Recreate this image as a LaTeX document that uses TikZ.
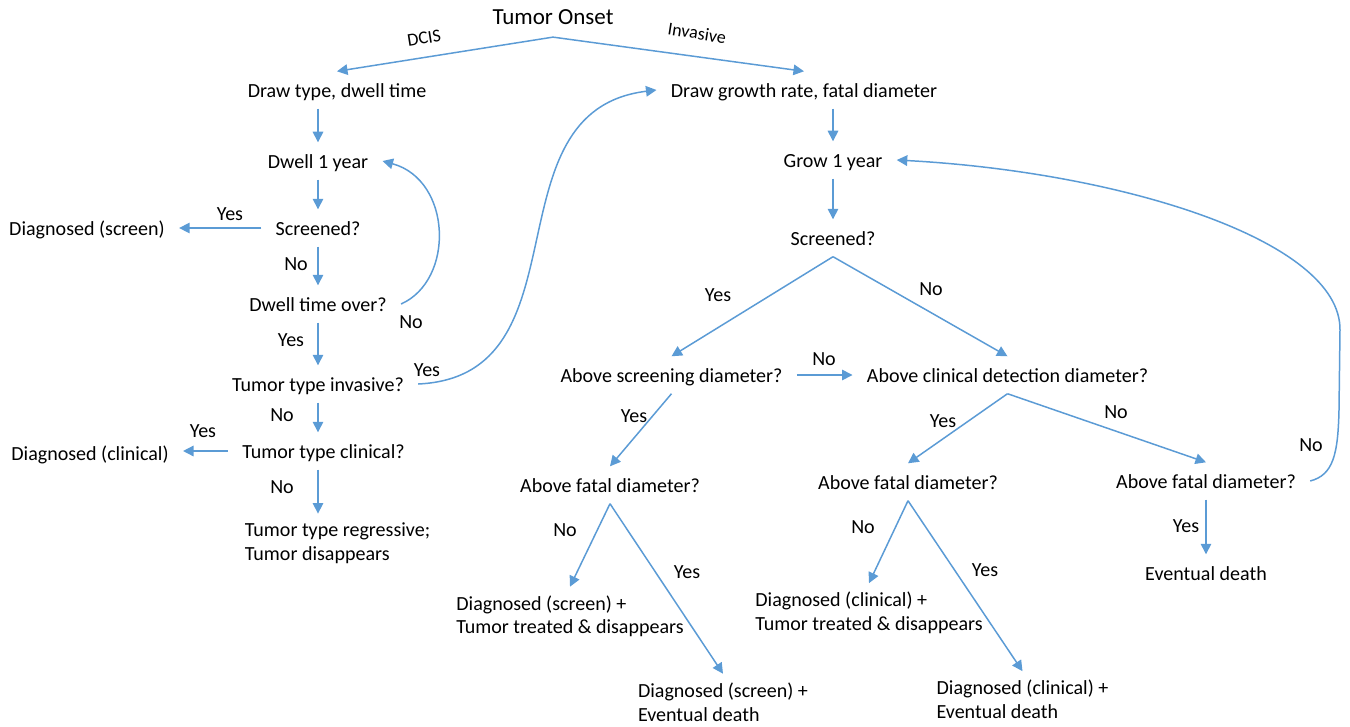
\documentclass[tikz,border=0pt]{standalone}
\usepackage{fontspec}
\setmainfont{Carlito}
\usepackage{tikz}
\usetikzlibrary{arrows.meta}
\definecolor{flowblue}{HTML}{5B9BD5}

\begin{document}
\begin{tikzpicture}[x=0.02cm, y=-0.02cm, font=\fontsize{11.4}{13.4}\selectfont,
	box/.style={inner xsep=8pt, inner ysep=5pt, text height=9.9pt, text depth=1pt},
	twoline/.style={inner xsep=8pt, inner ysep=5pt, align=left},
	lbl/.style={inner sep=1pt},
	branch/.style={inner sep=1pt, font=\fontsize{10.3}{12}\selectfont},
	arr/.style={draw=flowblue, line width=0.85pt, -{Triangle[length=6pt, width=6pt]}}]

\useasboundingbox (0,0) rectangle (1350,727);

% top
\node[box, font=\fontsize{13.1}{15}\selectfont, text height=10.6pt, text depth=1.9pt] (onset) at (553,17) {Tumor Onset};
\node[branch, rotate=9]  (dcis) at (424,38) {DCIS};
\node[branch, rotate=-9] (invs) at (697,33) {Invasive};

% DCIS side
\node[box] (dtype) at (337,90)  {Draw type, dwell time};
\node[box] (dwell) at (318,161) {Dwell 1 year};
\node[box] (scrL)  at (318,228) {Screened?};
\node[box] (diagS) at (87,228)  {Diagnosed (screen)};
\node[box] (over)  at (318,304) {Dwell time over?};
\node[box] (inv)   at (318,384) {Tumor type invasive?};
\node[box] (clin)  at (323.5,451) {Tumor type clinical?};
\node[box] (diagC) at (90,453)  {Diagnosed (clinical)};
\node[twoline] (regr) at (337.5,543) {Tumor type regressive;\\Tumor disappears};

% invasive side
\node[box] (growth) at (804,90)  {Draw growth rate, fatal diameter};
\node[box] (grow)   at (833,160) {Grow 1 year};
\node[box] (scrR)   at (833,238) {Screened?};
\node[box] (absc)   at (671.5,375)  {Above screening diameter?};
\node[box] (abcl)   at (1007.5,375) {Above clinical detection diameter?};
\node[box] (fatal1) at (610,485)  {Above fatal diameter?};
\node[box] (fatal2) at (908,482)  {Above fatal diameter?};
\node[box] (fatal3) at (1206,481) {Above fatal diameter?};
\node[box] (death)  at (1206,573) {Eventual death};
\node[twoline] (dst) at (570,616.5)  {Diagnosed (screen) +\\Tumor treated \& disappears};
\node[twoline] (dsd) at (723,702)    {Diagnosed (screen) +\\Eventual death};
\node[twoline] (dct) at (869,613)    {Diagnosed (clinical) +\\Tumor treated \& disappears};
\node[twoline] (dcd) at (1022.5,699.5) {Diagnosed (clinical) +\\Eventual death};

% yes / no
\foreach \x/\y/\t [count=\i] in {230/214/Yes, 296/264/No, 411/322/No, 291/340/Yes,
	427/370/Yes, 282/415/No, 203/431/Yes, 282/487/No, 718/295/Yes, 931/289/No,
	824/359/No, 634/416/Yes, 943/421/Yes, 1116/412/No, 1311/445/No, 1186/526/Yes,
	565/530/No, 687/572/Yes, 863/527/No, 985/570/Yes}{
	\node[lbl] (lbl\i) at (\x,\y) {\t};
}

% arrows
\draw[arr] (onset.south) -- (dtype.north);
\draw[arr] (onset.south) -- (growth.north);

\draw[arr] (dtype.south -| dwell.north) -- (dwell.north);
\foreach \a/\b in {dwell/scrL, scrL/over, over/inv, inv/clin, clin/regr}{
	\draw[arr] (\a.south -| inv.south) -- (\b.north -| inv.south);
}
\draw[arr] (scrL.west) -- (diagS.east);
\draw[arr] (clin.west) -- (clin.west -| diagC.east);
\draw[arr] (over.east) .. controls (455,280) and (452,180) .. (dwell.east);
\draw[arr] (inv.east) .. controls +(172,-8) and +(-172,21) .. (growth.west);

\draw[arr] (growth.south -| grow.north) -- (grow.north);
\draw[arr] (grow.south) -- (scrR.north);
\draw[arr] (scrR.south) -- (absc.north);
\draw[arr] (scrR.south) -- (abcl.north);
\draw[arr] (absc.east) -- (abcl.west);
\draw[arr] (absc.south) -- (fatal1.north);
\draw[arr] (abcl.south) -- (fatal2.north);
\draw[arr] (abcl.south) -- (fatal3.north);
\draw[arr] (fatal3.south) -- (death.north);
\draw[arr] (fatal1.south) -- (dst.north);
\draw[arr] (fatal1.south) -- (dsd.north);
\draw[arr] (fatal2.south) -- (dct.north);
\draw[arr] (fatal2.south) -- (dcd.north);
\draw[arr] (fatal3.east) .. controls (1333,475) and (1338,455) .. (1339,410)
	-- (1340,330) .. controls (1341,240) and (1120,172) .. (grow.east);

\end{tikzpicture}
\end{document}
